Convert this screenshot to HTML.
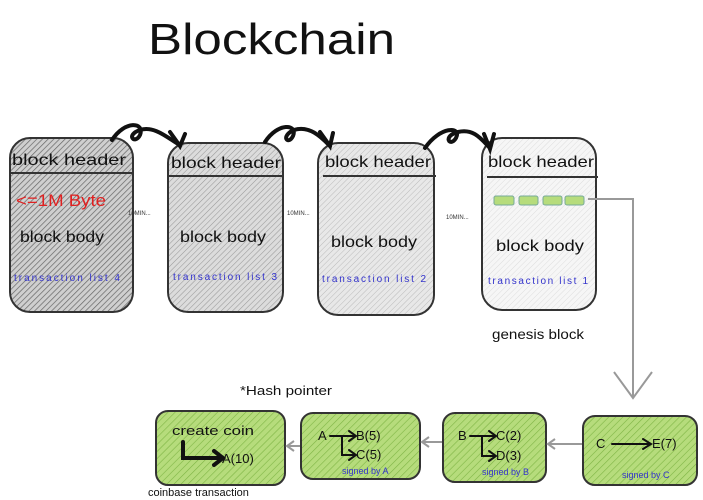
<!DOCTYPE html>
<html><head><meta charset="utf-8"><style>
body{margin:0;background:#fff;}
svg{display:block}
text{font-family:"Liberation Sans",sans-serif;}
</style></head><body>
<svg width="703" height="500" viewBox="0 0 703 500" xmlns="http://www.w3.org/2000/svg">
<defs>
<pattern id="hd" width="4" height="4" patternUnits="userSpaceOnUse" patternTransform="rotate(45)"><rect width="4" height="4" fill="#cfcfcf"/><line x1="0" y1="0" x2="0" y2="4" stroke="#666" stroke-width="1.4"/></pattern>
<pattern id="hm" width="4" height="4" patternUnits="userSpaceOnUse" patternTransform="rotate(45)"><rect width="4" height="4" fill="#dcdcdc"/><line x1="0" y1="0" x2="0" y2="4" stroke="#999" stroke-width="1.1"/></pattern>
<pattern id="hl" width="4" height="4" patternUnits="userSpaceOnUse" patternTransform="rotate(45)"><rect width="4" height="4" fill="#e8e8e8"/><line x1="0" y1="0" x2="0" y2="4" stroke="#bbb" stroke-width="1"/></pattern>
<pattern id="hw" width="4" height="4" patternUnits="userSpaceOnUse" patternTransform="rotate(45)"><rect width="4" height="4" fill="#f6f6f6"/><line x1="0" y1="0" x2="0" y2="4" stroke="#ddd" stroke-width="1"/></pattern>
<pattern id="hg" width="5" height="5" patternUnits="userSpaceOnUse" patternTransform="rotate(45)"><rect width="5" height="5" fill="#b6dc7c"/><line x1="0" y1="0" x2="0" y2="5" stroke="#7fb545" stroke-width="1.2"/></pattern>
</defs>
<text x="148" y="54" font-size="44" fill="#111" textLength="247" lengthAdjust="spacingAndGlyphs">Blockchain</text>

<rect x="10" y="138" width="123" height="174" rx="20" fill="url(#hd)" stroke="#333" stroke-width="2"/>
<rect x="168" y="143" width="115" height="169" rx="20" fill="url(#hm)" stroke="#333" stroke-width="2"/>
<rect x="318" y="143" width="116" height="172" rx="20" fill="url(#hl)" stroke="#333" stroke-width="2"/>
<rect x="482" y="138" width="114" height="172" rx="20" fill="url(#hw)" stroke="#333" stroke-width="2"/>
<g stroke="#333" stroke-width="2">
<line x1="10" y1="173" x2="133" y2="173"/><line x1="168" y1="176" x2="283" y2="176"/>
<line x1="323" y1="176" x2="436" y2="176"/><line x1="487" y1="177" x2="598" y2="177"/>
</g>
<g font-size="16" fill="#111">
<text x="12" y="165" textLength="114" lengthAdjust="spacingAndGlyphs">block header</text>
<text x="171" y="168" textLength="110" lengthAdjust="spacingAndGlyphs">block header</text>
<text x="325" y="167" textLength="106" lengthAdjust="spacingAndGlyphs">block header</text>
<text x="488" y="167" textLength="106" lengthAdjust="spacingAndGlyphs">block header</text>
<text x="20" y="242" textLength="84" lengthAdjust="spacingAndGlyphs">block body</text>
<text x="180" y="242" textLength="86" lengthAdjust="spacingAndGlyphs">block body</text>
<text x="331" y="247" textLength="86" lengthAdjust="spacingAndGlyphs">block body</text>
<text x="496" y="251" textLength="88" lengthAdjust="spacingAndGlyphs">block body</text>
</g>
<text x="16" y="206" font-size="17" fill="#e02020" textLength="90" lengthAdjust="spacingAndGlyphs">&lt;=1M Byte</text>
<g font-size="10" fill="#3333cc">
<text x="14" y="281" textLength="106">transaction list 4</text><text x="173" y="280" textLength="104">transaction list 3</text>
<text x="322" y="282" textLength="104">transaction list 2</text><text x="488" y="284" textLength="100">transaction list 1</text>
</g>
<g font-size="6" fill="#333"><text x="128" y="215">10MIN...</text><text x="287" y="215">10MIN...</text><text x="446" y="219">10MIN...</text></g>
<text x="492" y="339" font-size="14" fill="#111" textLength="92" lengthAdjust="spacingAndGlyphs">genesis block</text>
<g fill="#b6dc7c" stroke="#7a9" stroke-width="1">
<rect x="494" y="196" width="20" height="9" rx="2"/><rect x="519" y="196" width="19" height="9" rx="2"/>
<rect x="543" y="196" width="19" height="9" rx="2"/><rect x="565" y="196" width="19" height="9" rx="2"/>
</g>
<g fill="none" stroke="#111" stroke-width="4" stroke-linecap="round">
<path d="M112 140 C125 120 145 122 140 135 C135 145 125 135 140 130 C155 125 170 140 180 145"/>
<path d="M170 132 L180 146 L185 134"/>
<path d="M265 142 C278 122 298 124 293 136 C288 146 280 136 294 130 C310 125 322 138 330 146"/>
<path d="M320 132 L330 146 L333 133"/>
<path d="M425 148 C440 126 462 126 456 138 C450 148 442 136 458 132 C474 128 482 140 490 148"/>
<path d="M484 134 L490 149 L494 134"/>
</g>
<g fill="none" stroke="#999" stroke-width="2">
<polyline points="588,199 633,199 633,398"/>
<polyline points="614,372 633,398 652,372"/>
</g>
<g fill="url(#hg)" stroke="#333" stroke-width="2">
<rect x="156" y="411" width="129" height="74" rx="12"/>
<rect x="301" y="413" width="119" height="66" rx="12"/>
<rect x="443" y="413" width="103" height="69" rx="12"/>
<rect x="583" y="416" width="114" height="69" rx="12"/>
</g>
<g fill="none" stroke="#999" stroke-width="2">
<line x1="287" y1="446" x2="300" y2="446"/><polyline points="294,441 287,446 294,451"/>
<line x1="422" y1="442" x2="442" y2="442"/><polyline points="429,437 422,442 429,447"/>
<line x1="548" y1="444" x2="582" y2="444"/><polyline points="555,439 548,444 555,449"/>
</g>
<text x="240" y="395" font-size="13" fill="#111" textLength="92" lengthAdjust="spacingAndGlyphs">*Hash pointer</text>
<text x="148" y="496" font-size="11" fill="#111">coinbase transaction</text>
<g font-size="13" fill="#111">
<text x="172" y="435" textLength="82" lengthAdjust="spacingAndGlyphs">create coin</text><text x="222" y="463">A(10)</text>
<text x="318" y="440">A</text><text x="356" y="440">B(5)</text><text x="356" y="459">C(5)</text>
<text x="458" y="440">B</text><text x="496" y="440">C(2)</text><text x="496" y="460">D(3)</text>
<text x="596" y="448">C</text><text x="652" y="448">E(7)</text>
</g>
<g font-size="9" fill="#3333cc">
<text x="342" y="474">signed by A</text><text x="482" y="475">signed by B</text><text x="622" y="478">signed by C</text>
</g>
<g fill="none" stroke="#111" stroke-linecap="round">
<path d="M183 442 L183 458 L222 458" stroke-width="4"/><path d="M214 451 L223 458 L214 465" stroke-width="4"/>
<path d="M330 436 L355 436 M349 431 L356 436 L349 441 M342 436 L342 455 L355 455 M349 450 L356 455 L349 460" stroke-width="2"/>
<path d="M470 436 L495 436 M489 431 L496 436 L489 441 M482 436 L482 456 L495 456 M489 451 L496 456 L489 461" stroke-width="2"/>
<path d="M612 444 L650 444 M643 439 L651 444 L643 449" stroke-width="2"/>
</g>
</svg>
</body></html>
